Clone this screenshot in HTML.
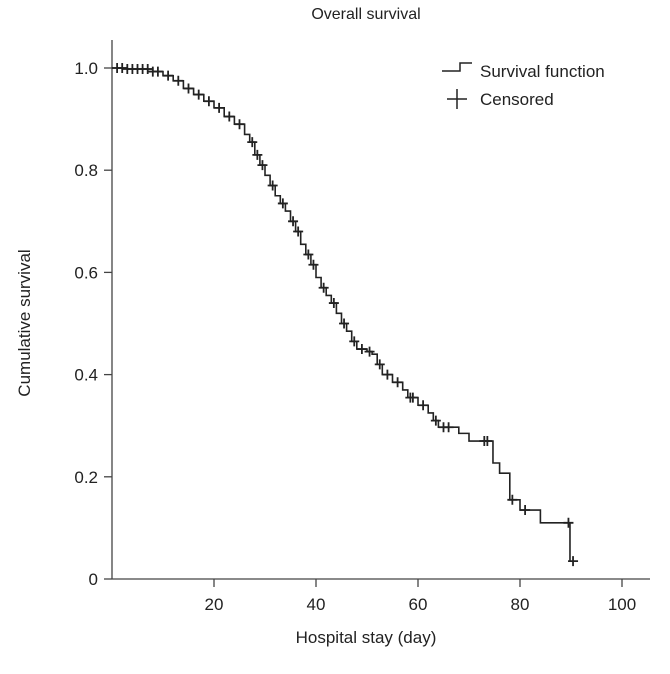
<!DOCTYPE html>
<html><head><meta charset="utf-8"><style>
body{margin:0;background:#fff;}
svg text{font-family:"Liberation Sans",sans-serif;fill:#222;}
</style></head><body>
<svg id="chart" width="670" height="669" viewBox="0 0 670 669">
<text x="366" y="19" font-size="16" text-anchor="middle">Overall survival</text>
<text x="0" y="0" font-size="17" text-anchor="middle" transform="translate(30,323) rotate(-90)">Cumulative survival</text>
<text x="366" y="643" font-size="17" text-anchor="middle">Hospital stay (day)</text>
<g id="axes"></g>
<g id="marks"></g>
<g>
<path d="M442 71 H460 V63 H472" fill="none" stroke="#222" stroke-width="1.5"/>
<text x="480" y="77" font-size="17">Survival function</text>
<path d="M447 99 H467 M457 89 V109" stroke="#222" stroke-width="1.5"/>
<text x="480" y="105" font-size="17">Censored</text>
</g>
</svg>
<script>
const times=[0,3,8,10,12,14,16,18,20,22,24,26,27,28,29,30,31,32,33,34,35,36,37,38,39,40,41,42,43,44,45,46,47,48,50,51,52,53,55,57,58,60,62,63,64,68,70,74.7,76,78,80,84,89.8];
const survival=[1.0,0.998,0.993,0.985,0.975,0.96,0.948,0.935,0.922,0.905,0.89,0.87,0.855,0.83,0.81,0.79,0.77,0.75,0.735,0.72,0.70,0.68,0.655,0.635,0.615,0.59,0.57,0.555,0.54,0.52,0.50,0.485,0.465,0.45,0.445,0.44,0.42,0.40,0.385,0.37,0.355,0.34,0.325,0.31,0.297,0.285,0.27,0.227,0.207,0.155,0.135,0.11,0.035];
const censorTimes=[1,2,3,4,5,6,7,8,9,11,13,15,17,19,21,23,25,27.5,28.5,29.5,31.5,33.5,35.5,36.5,38.5,39.5,41.5,43.5,45.5,47.5,49,50.5,52.5,54,56,58.5,59,61,63.5,65,66,73,73.6,78.5,81,89.5,90.4];
const xTicks=[20,40,60,80,100];
const yTicks=[0,0.2,0.4,0.6,0.8,1.0];
const yTickLabels=["0","0.2","0.4","0.6","0.8","1.0"];
const NS="http://www.w3.org/2000/svg";
const X=t=>112+t*5.1;
const Y=s=>579-s*511;
function survAt(t){let s=survival[0];for(let i=0;i<times.length;i++){if(times[i]<=t)s=survival[i];}return s;}
const ax=document.getElementById('axes');
function mk(tag,attrs,parent){const e=document.createElementNS(NS,tag);for(const k in attrs)e.setAttribute(k,attrs[k]);parent.appendChild(e);return e;}
let a=mk('line',{x1:112,y1:40,x2:112,y2:579,stroke:'#444','stroke-width':1.3},ax);


a=mk('line',{x1:112,y1:579,x2:650,y2:579,stroke:'#444','stroke-width':1.3},ax);


xTicks.forEach(v=>{
 const l=mk('line',{x1:X(v),y1:579,x2:X(v),y2:587,stroke:'#444','stroke-width':1.3},ax);
 
 
 const t=mk('text',{x:X(v),y:610,'font-size':17,'text-anchor':'middle'},ax);t.textContent=v;
 
 
});
yTicks.forEach((v,i)=>{
 const l=mk('line',{x1:104,y1:Y(v),x2:112,y2:Y(v),stroke:'#444','stroke-width':1.3},ax);
 
 
 const t=mk('text',{x:98,y:Y(v)+6,'font-size':17,'text-anchor':'end'},ax);t.textContent=yTickLabels[i];
 
 
});
const mg=document.getElementById('marks');
let d='M'+X(times[0])+' '+Y(survival[0]);
for(let i=1;i<times.length;i++){d+=' H'+X(times[i])+' V'+Y(survival[i]);}
const p=mk('path',{d:d,fill:'none',stroke:'#222','stroke-width':1.6},mg);


censorTimes.forEach(t=>{
 const x=X(t),y=Y(survAt(t));
 const c=mk('path',{d:`M${x-5} ${y} H${x+5} M${x} ${y-5} V${y+5}`,stroke:'#222','stroke-width':1.8},mg);
 
 
});
</script>
</body></html>
